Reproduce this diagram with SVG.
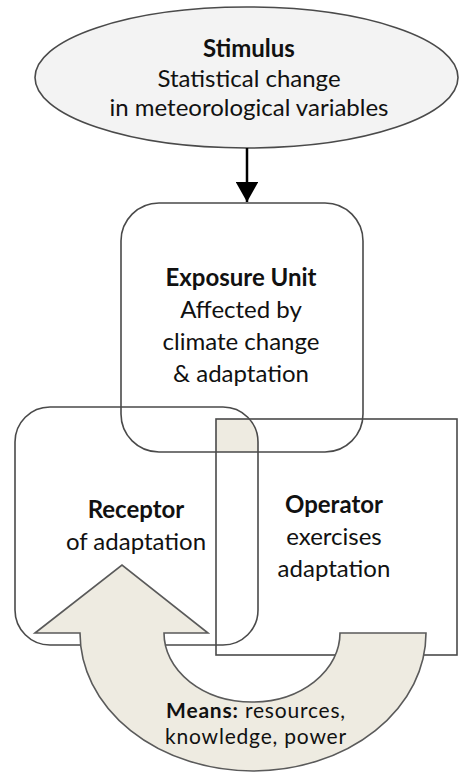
<svg xmlns="http://www.w3.org/2000/svg" width="460" height="774" viewBox="0 0 460 774">
<style>
  .t { font-family: "Lato", "Liberation Sans", sans-serif; font-size: 24px; fill: #111; text-anchor: middle; }
  .m { font-size: 21px; letter-spacing: 0.8px; }
  .b { font-weight: bold; }
  .box { fill: none; stroke: #4a4a4a; stroke-width: 1.6; }
  .beige { fill: #eeebe1; }
</style>
<defs>
  <marker id="ah" markerWidth="8" markerHeight="9" refX="8" refY="4.5" orient="auto" markerUnits="strokeWidth">
    <path d="M0,0 L8,4.5 L0,9 Z" fill="#000"/>
  </marker>
</defs>
<rect width="460" height="774" fill="#fff"/>

<g id="stimulus">
  <ellipse cx="246.5" cy="77.5" rx="211.5" ry="70.5" fill="#f3f3f3" stroke="#4a4a4a" stroke-width="1.6"/>
  <text class="t b" x="249" y="57">Stimulus</text>
  <text class="t" x="249" y="87">Statistical change</text>
  <text class="t" x="249" y="116">in meteorological variables</text>
</g>

<g id="overlap">
  <path class="beige" d="M216,419 L249.4,419 A35 35 0 0 1 258 442 L258 452 L216 452 Z"/>
</g>

<g id="exposure-unit">
  <rect class="box" x="121" y="203" width="242" height="249" rx="38" ry="38"/>
  <text class="t b" x="241" y="286">Exposure Unit</text>
  <text class="t" x="241" y="318">Affected by</text>
  <text class="t" x="241" y="350">climate change</text>
  <text class="t" x="241" y="382">&amp; adaptation</text>
</g>

<g id="receptor">
  <rect class="box" x="15" y="407" width="243" height="238" rx="35" ry="35"/>
  <text class="t b" x="136" y="518">Receptor</text>
  <text class="t" x="136" y="550">of adaptation</text>
</g>

<g id="operator">
  <rect class="box" x="216" y="419" width="241" height="236"/>
  <text class="t b" x="334" y="513">Operator</text>
  <text class="t" x="334" y="545">exercises</text>
  <text class="t" x="334" y="577">adaptation</text>
</g>

<g id="means">
  <path d="M35,633 L122,565 L208,633 L164,633 A88 69 0 0 0 340 633 L426,633 A173 138 0 0 1 80 633 Z" fill="#eeebe1" stroke="#5a5a5a" stroke-width="1.6" stroke-linejoin="miter"/>
  <text class="t m" x="256" y="718"><tspan class="b">Means:</tspan> resources,</text>
  <text class="t m" x="256" y="744">knowledge, power</text>
</g>

<g id="connectors">
  <line x1="247" y1="148" x2="247" y2="202" stroke="#000" stroke-width="2.5" marker-end="url(#ah)"/>
</g>
</svg>
